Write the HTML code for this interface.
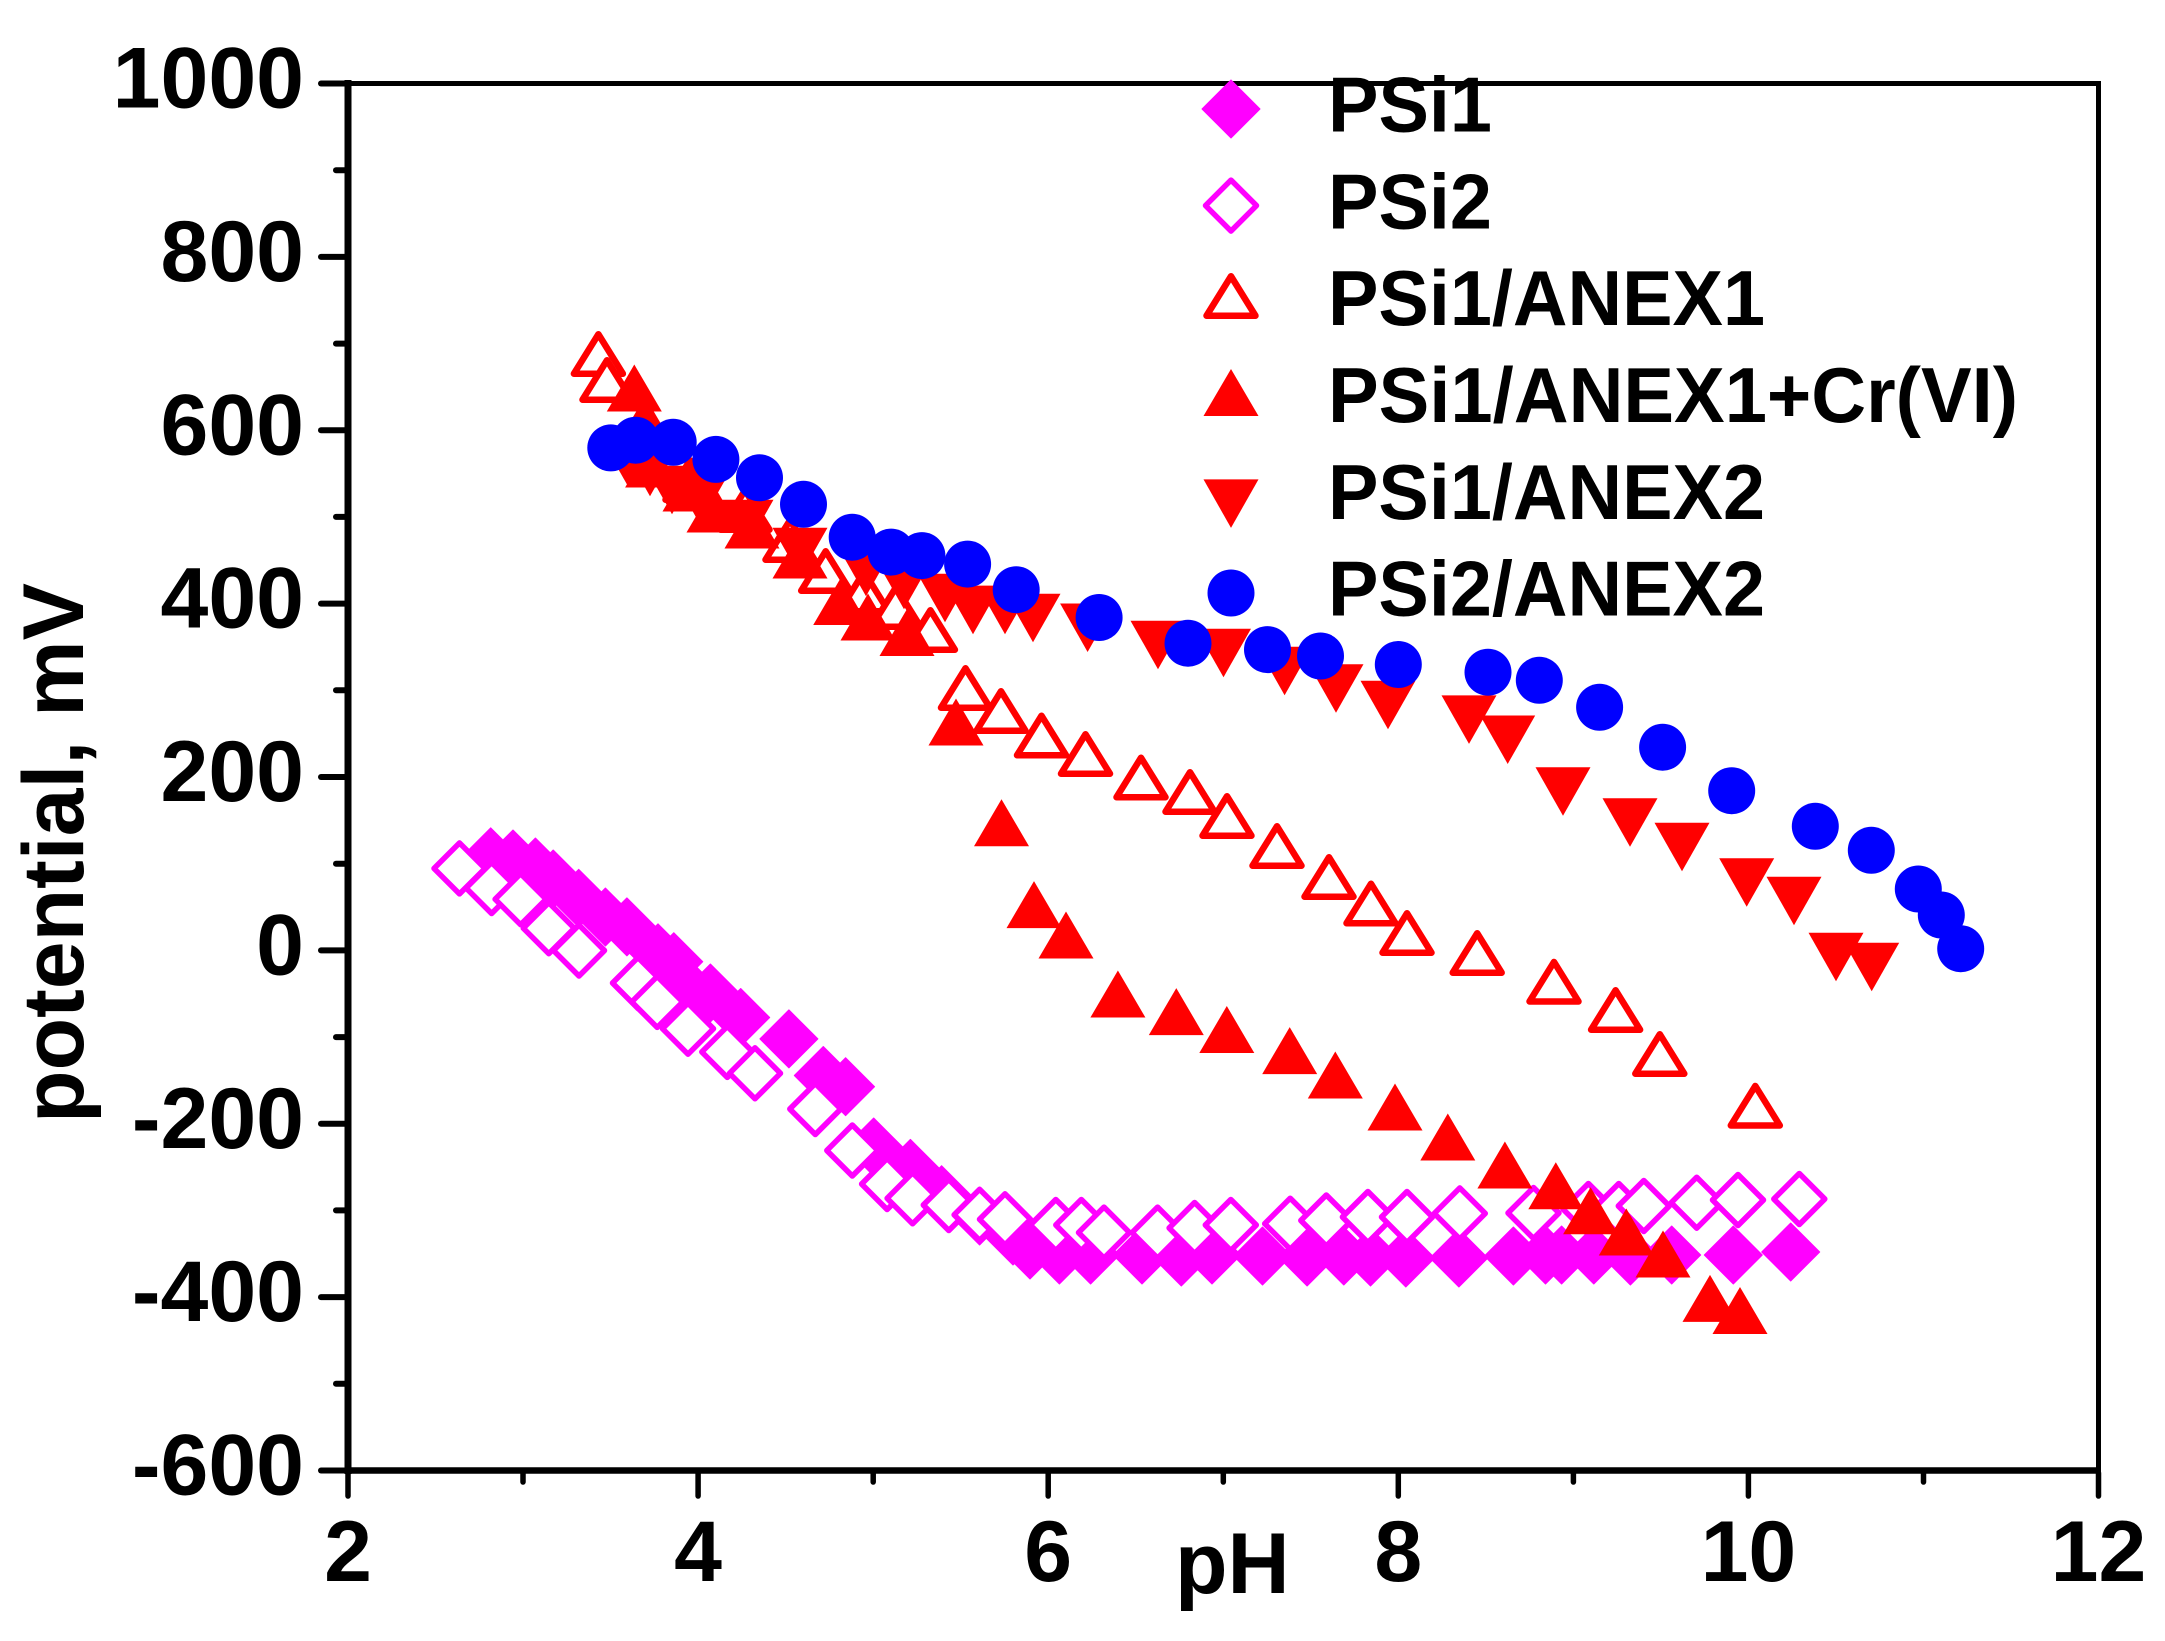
<!DOCTYPE html>
<html>
<head>
<meta charset="utf-8">
<style>
html,body{margin:0;padding:0;background:#fff;}
svg{display:block;}
text{font-family:"Liberation Sans",Arial,sans-serif;font-weight:bold;fill:#000;}
</style>
</head>
<body>
<svg width="2165" height="1641" viewBox="0 0 2165 1641" xmlns="http://www.w3.org/2000/svg">
<defs>
  <path id="fd" d="M0,-29 L29,0 L0,29 L-29,0 Z" fill="#FF00FF" stroke="#FF00FF" stroke-width="1" stroke-linejoin="round"/>
  <path id="od" d="M0,-25.5 L25.5,0 L0,25.5 L-25.5,0 Z" fill="#fff" stroke="#FF00FF" stroke-width="5.5" stroke-linejoin="round"/>
  <path id="ot" d="M0,-19.75 L24.5,19.75 L-24.5,19.75 Z" fill="#fff" stroke="#FF0000" stroke-width="6.5" stroke-linejoin="round"/>
  <path id="ft" d="M0,-23.5 L27.5,23.5 L-27.5,23.5 Z" fill="#FF0000"/>
  <path id="dt" d="M-27.5,-24.25 L27.5,-24.25 L0,24.25 Z" fill="#FF0000"/>
  <circle id="bc" cx="0" cy="0" r="23.5" fill="#0000FF"/>
</defs>
<rect x="0" y="0" width="2165" height="1641" fill="#fff"/>

<!-- frame -->
<g stroke="#000" fill="none">
  <line x1="348" y1="81" x2="2101" y2="83.5" stroke-width="0"/>
  <line x1="345" y1="83.5" x2="2101" y2="83.5" stroke-width="5"/>
  <line x1="2098.5" y1="81" x2="2098.5" y2="1470.5" stroke-width="5"/>
  <line x1="348" y1="80" x2="348" y2="1474" stroke-width="7"/>
  <line x1="344.5" y1="1470.5" x2="2101" y2="1470.5" stroke-width="6.5"/>
</g>
<!-- y ticks -->
<g stroke="#000" stroke-width="6" stroke-linecap="round">
  <line x1="321" y1="83.5" x2="345" y2="83.5"/>
  <line x1="321" y1="256.9" x2="345" y2="256.9"/>
  <line x1="321" y1="430.3" x2="345" y2="430.3"/>
  <line x1="321" y1="603.6" x2="345" y2="603.6"/>
  <line x1="321" y1="777" x2="345" y2="777"/>
  <line x1="321" y1="950.4" x2="345" y2="950.4"/>
  <line x1="321" y1="1123.8" x2="345" y2="1123.8"/>
  <line x1="321" y1="1297.1" x2="345" y2="1297.1"/>
  <line x1="321" y1="1470.5" x2="345" y2="1470.5"/>
  <line x1="336" y1="170.2" x2="345" y2="170.2"/>
  <line x1="336" y1="343.6" x2="345" y2="343.6"/>
  <line x1="336" y1="516.9" x2="345" y2="516.9"/>
  <line x1="336" y1="690.3" x2="345" y2="690.3"/>
  <line x1="336" y1="863.7" x2="345" y2="863.7"/>
  <line x1="336" y1="1037.1" x2="345" y2="1037.1"/>
  <line x1="336" y1="1210.4" x2="345" y2="1210.4"/>
  <line x1="336" y1="1383.8" x2="345" y2="1383.8"/>
</g>
<!-- x ticks -->
<g stroke="#000" stroke-width="5.5" stroke-linecap="round">
  <line x1="348" y1="1473" x2="348" y2="1496"/>
  <line x1="698.1" y1="1473" x2="698.1" y2="1496"/>
  <line x1="1048.2" y1="1473" x2="1048.2" y2="1496"/>
  <line x1="1398.3" y1="1473" x2="1398.3" y2="1496"/>
  <line x1="1748.4" y1="1473" x2="1748.4" y2="1496"/>
  <line x1="2098.5" y1="1473" x2="2098.5" y2="1496"/>
  <line x1="523" y1="1473" x2="523" y2="1482"/>
  <line x1="873.2" y1="1473" x2="873.2" y2="1482"/>
  <line x1="1223.3" y1="1473" x2="1223.3" y2="1482"/>
  <line x1="1573.4" y1="1473" x2="1573.4" y2="1482"/>
  <line x1="1923.5" y1="1473" x2="1923.5" y2="1482"/>
</g>

<!-- y tick labels -->
<g font-size="86" text-anchor="end">
  <text x="304" y="107.5">1000</text>
  <text x="304" y="280.9">800</text>
  <text x="304" y="454.3">600</text>
  <text x="304" y="627.6">400</text>
  <text x="304" y="801">200</text>
  <text x="304" y="974.4">0</text>
  <text x="304" y="1147.8">-200</text>
  <text x="304" y="1321.1">-400</text>
  <text x="304" y="1494.5">-600</text>
</g>
<!-- x tick labels -->
<g font-size="86" text-anchor="middle">
  <text x="348" y="1581">2</text>
  <text x="698.1" y="1581">4</text>
  <text x="1048.2" y="1581">6</text>
  <text x="1398.3" y="1581">8</text>
  <text x="1748.4" y="1581">10</text>
  <text x="2098.5" y="1581">12</text>
</g>
<!-- axis titles -->
<text font-size="86" text-anchor="middle" transform="translate(83,853) rotate(-90)">potential, mV</text>
<text font-size="86" x="1175" y="1593">pH</text>

<!-- PSi1 filled diamonds -->
<g>
<use href="#fd" x="490.7" y="856.8"/><use href="#fd" x="513" y="859"/><use href="#fd" x="535.4" y="867"/>
<use href="#fd" x="553.2" y="879"/><use href="#fd" x="578.7" y="898.3"/><use href="#fd" x="605.4" y="917"/>
<use href="#fd" x="626.9" y="926.9"/><use href="#fd" x="658" y="952.8"/><use href="#fd" x="673.8" y="961.7"/>
<use href="#fd" x="687" y="986.3"/><use href="#fd" x="710.4" y="993"/><use href="#fd" x="740.7" y="1017.5"/>
<use href="#fd" x="788.9" y="1038.9"/><use href="#fd" x="823.3" y="1075.5"/><use href="#fd" x="845.6" y="1086.7"/>
<use href="#fd" x="873.7" y="1147"/><use href="#fd" x="910.4" y="1168.4"/><use href="#fd" x="941.6" y="1194.7"/>
<use href="#fd" x="979.6" y="1216"/><use href="#fd" x="1013" y="1236"/><use href="#fd" x="1030" y="1250"/>
<use href="#fd" x="1059.4" y="1255"/><use href="#fd" x="1090.6" y="1255"/><use href="#fd" x="1142" y="1255"/>
<use href="#fd" x="1181.3" y="1257"/><use href="#fd" x="1212" y="1255"/><use href="#fd" x="1262.5" y="1256"/>
<use href="#fd" x="1307.1" y="1257"/><use href="#fd" x="1343.8" y="1256"/><use href="#fd" x="1370.5" y="1257"/>
<use href="#fd" x="1405.8" y="1258"/><use href="#fd" x="1458.9" y="1258"/><use href="#fd" x="1513.4" y="1256"/>
<use href="#fd" x="1545.5" y="1255"/><use href="#fd" x="1561.6" y="1255"/><use href="#fd" x="1593.8" y="1255"/>
<use href="#fd" x="1630.4" y="1256"/><use href="#fd" x="1671.7" y="1255"/><use href="#fd" x="1733.3" y="1255"/>
<use href="#fd" x="1790.7" y="1252"/>
</g>
<!-- PSi2 open diamonds -->
<g>
<use href="#od" x="459.5" y="868.4"/><use href="#od" x="491.6" y="888"/><use href="#od" x="520.6" y="899.2"/>
<use href="#od" x="548.8" y="928.2"/><use href="#od" x="579" y="950.5"/><use href="#od" x="638" y="983"/>
<use href="#od" x="657.2" y="1001.9"/><use href="#od" x="688" y="1028.7"/><use href="#od" x="727.3" y="1051.9"/>
<use href="#od" x="755" y="1073.3"/><use href="#od" x="815.3" y="1109"/><use href="#od" x="852.3" y="1150.5"/>
<use href="#od" x="887.1" y="1184"/><use href="#od" x="912.6" y="1198.3"/><use href="#od" x="948.8" y="1205"/>
<use href="#od" x="979.6" y="1214.8"/><use href="#od" x="1005" y="1219.3"/><use href="#od" x="1055.8" y="1225"/>
<use href="#od" x="1081.3" y="1225"/><use href="#od" x="1104" y="1232.6"/><use href="#od" x="1157.6" y="1232.6"/>
<use href="#od" x="1194.6" y="1228"/><use href="#od" x="1230.8" y="1225"/><use href="#od" x="1290.2" y="1223.7"/>
<use href="#od" x="1326.3" y="1220.5"/><use href="#od" x="1367.9" y="1217"/><use href="#od" x="1407" y="1217"/>
<use href="#od" x="1459.8" y="1213.4"/><use href="#od" x="1533.5" y="1213"/><use href="#od" x="1588.4" y="1209"/>
<use href="#od" x="1618.8" y="1209"/><use href="#od" x="1643.8" y="1206"/><use href="#od" x="1696.7" y="1202.7"/>
<use href="#od" x="1738" y="1200"/><use href="#od" x="1799.3" y="1199"/>
</g>
<!-- PSi1/ANEX1 open triangles -->
<g>
<use href="#ot" x="598.4" y="354"/><use href="#ot" x="607" y="380"/><use href="#ot" x="640" y="440"/>
<use href="#ot" x="690" y="480"/><use href="#ot" x="745" y="510"/><use href="#ot" x="790" y="540"/>
<use href="#ot" x="825.7" y="571"/><use href="#ot" x="864" y="591.5"/><use href="#ot" x="896" y="607"/>
<use href="#ot" x="930.4" y="630"/><use href="#ot" x="965.5" y="688"/><use href="#ot" x="1001" y="711"/>
<use href="#ot" x="1041.5" y="735.5"/><use href="#ot" x="1085.5" y="754"/><use href="#ot" x="1141" y="777.5"/>
<use href="#ot" x="1190" y="792"/><use href="#ot" x="1227" y="816"/><use href="#ot" x="1277" y="846"/>
<use href="#ot" x="1329" y="877"/><use href="#ot" x="1371" y="903.5"/><use href="#ot" x="1407" y="933"/>
<use href="#ot" x="1477.2" y="953"/><use href="#ot" x="1554" y="981.7"/><use href="#ot" x="1615.6" y="1010"/>
<use href="#ot" x="1659.8" y="1054"/><use href="#ot" x="1755.3" y="1105.7"/>
</g>
<!-- PSi1/ANEX1+Cr(VI) filled up triangles -->
<g>
<use href="#ft" x="634.3" y="388"/><use href="#ft" x="645" y="420"/><use href="#ft" x="652.6" y="464"/>
<use href="#ft" x="690" y="488"/><use href="#ft" x="714" y="509"/><use href="#ft" x="752" y="525"/>
<use href="#ft" x="800" y="555"/><use href="#ft" x="840.7" y="601.5"/><use href="#ft" x="868" y="617"/>
<use href="#ft" x="907" y="632.5"/><use href="#ft" x="956" y="722"/><use href="#ft" x="1001.5" y="822.7"/>
<use href="#ft" x="1034" y="904.6"/><use href="#ft" x="1066" y="935"/><use href="#ft" x="1117.9" y="994"/>
<use href="#ft" x="1176.3" y="1011.6"/><use href="#ft" x="1226.8" y="1029.5"/><use href="#ft" x="1289.7" y="1050.6"/>
<use href="#ft" x="1335.3" y="1075"/><use href="#ft" x="1395" y="1107"/><use href="#ft" x="1447.8" y="1137"/>
<use href="#ft" x="1504.9" y="1165"/><use href="#ft" x="1555.8" y="1185.7"/><use href="#ft" x="1590.6" y="1210.7"/>
<use href="#ft" x="1626.3" y="1232"/><use href="#ft" x="1663" y="1254"/><use href="#ft" x="1710" y="1298.4"/>
<use href="#ft" x="1740" y="1310.5"/>
</g>
<!-- PSi1/ANEX2 down triangles -->
<g>
<use href="#dt" x="628" y="462"/><use href="#dt" x="650" y="472"/><use href="#dt" x="672" y="490"/>
<use href="#dt" x="700" y="500"/><use href="#dt" x="746" y="524"/><use href="#dt" x="800" y="552"/>
<use href="#dt" x="866" y="572"/><use href="#dt" x="904" y="585"/><use href="#dt" x="945" y="598"/>
<use href="#dt" x="973" y="610"/><use href="#dt" x="1005" y="610"/><use href="#dt" x="1033" y="618"/>
<use href="#dt" x="1087.6" y="627.7"/><use href="#dt" x="1158" y="645"/><use href="#dt" x="1223.5" y="653"/>
<use href="#dt" x="1284.6" y="671"/><use href="#dt" x="1336" y="688.5"/><use href="#dt" x="1388" y="705"/>
<use href="#dt" x="1469" y="719.6"/><use href="#dt" x="1507.7" y="739.7"/><use href="#dt" x="1563" y="791.5"/>
<use href="#dt" x="1630" y="822.5"/><use href="#dt" x="1682" y="847"/><use href="#dt" x="1746.7" y="882.5"/>
<use href="#dt" x="1794" y="901"/><use href="#dt" x="1836" y="957"/><use href="#dt" x="1871.7" y="967"/>
</g>
<!-- PSi2/ANEX2 circles -->
<g>
<use href="#bc" x="610.8" y="447.9"/><use href="#bc" x="635.6" y="440.2"/><use href="#bc" x="673.2" y="442.3"/>
<use href="#bc" x="715.9" y="459.4"/><use href="#bc" x="759.5" y="477.8"/><use href="#bc" x="803.5" y="504.3"/>
<use href="#bc" x="852.2" y="537.2"/><use href="#bc" x="891.1" y="552.1"/><use href="#bc" x="921.9" y="555.6"/>
<use href="#bc" x="967.6" y="564.1"/><use href="#bc" x="1016.2" y="589.7"/><use href="#bc" x="1099.1" y="617.5"/>
<use href="#bc" x="1188" y="643.2"/><use href="#bc" x="1267.5" y="649.6"/><use href="#bc" x="1320.5" y="656"/>
<use href="#bc" x="1398.3" y="664.5"/><use href="#bc" x="1488" y="672.2"/><use href="#bc" x="1539.3" y="680.3"/>
<use href="#bc" x="1599.6" y="707.3"/><use href="#bc" x="1662.6" y="747.2"/><use href="#bc" x="1731.7" y="790.7"/>
<use href="#bc" x="1815.3" y="826.3"/><use href="#bc" x="1871.3" y="850.3"/><use href="#bc" x="1918.3" y="889"/>
<use href="#bc" x="1941.3" y="915"/><use href="#bc" x="1960.7" y="948.7"/>
</g>

<!-- legend -->
<use href="#fd" x="1231" y="109"/>
<use href="#od" x="1231" y="205.6"/>
<use href="#ot" x="1231" y="296"/>
<use href="#ft" x="1231" y="392.5"/>
<use href="#dt" x="1231" y="503.6"/>
<use href="#bc" x="1231" y="593"/>
<g font-size="78">
  <text x="1328" y="131.6" textLength="164" lengthAdjust="spacingAndGlyphs">PSi1</text>
  <text x="1328" y="228.4" textLength="164" lengthAdjust="spacingAndGlyphs">PSi2</text>
  <text x="1328" y="325.2" textLength="437" lengthAdjust="spacingAndGlyphs">PSi1/ANEX1</text>
  <text x="1328" y="422" textLength="690" lengthAdjust="spacingAndGlyphs">PSi1/ANEX1+Cr(VI)</text>
  <text x="1328" y="518.8" textLength="437" lengthAdjust="spacingAndGlyphs">PSi1/ANEX2</text>
  <text x="1328" y="615.6" textLength="437" lengthAdjust="spacingAndGlyphs">PSi2/ANEX2</text>
</g>
</svg>
</body>
</html>
